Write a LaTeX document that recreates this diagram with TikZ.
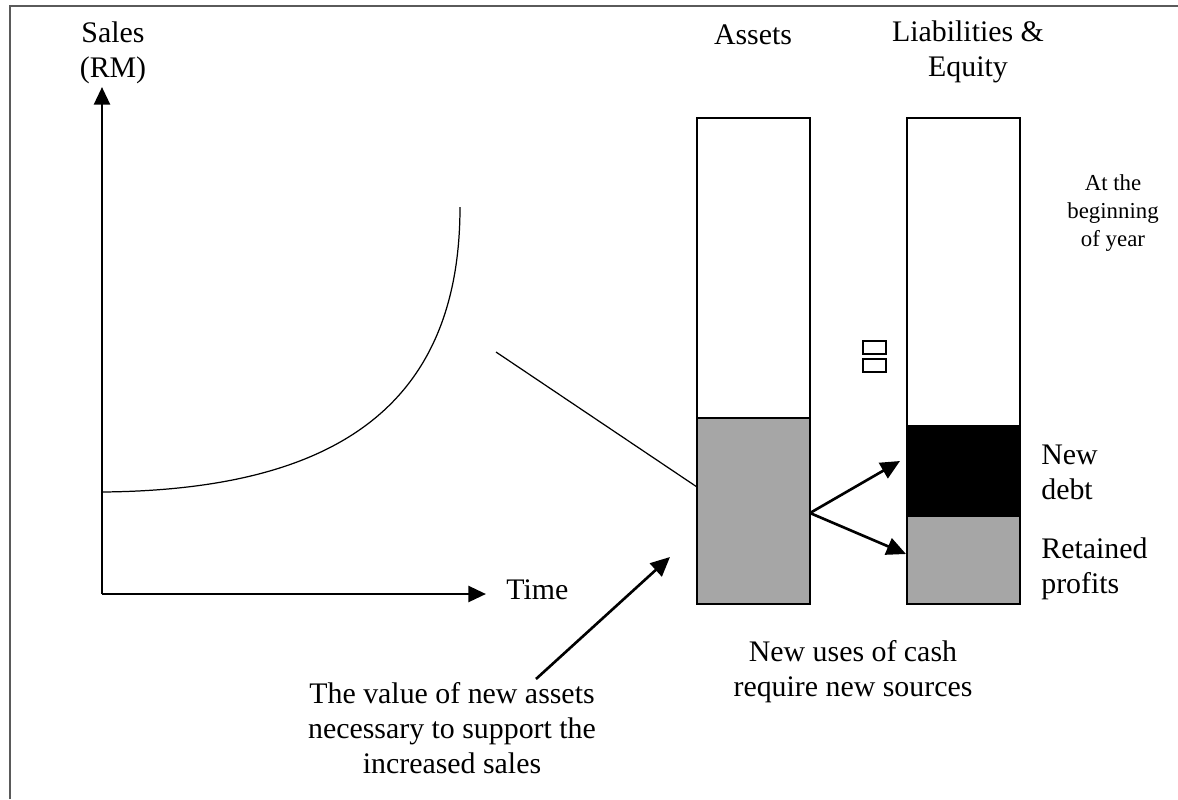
\documentclass[tikz,border=0pt]{standalone}
\usepackage{fontspec}
\setmainfont{Liberation Serif}
\usetikzlibrary{arrows.meta}

\definecolor{grisBarra}{RGB}{166,166,166}
\definecolor{grisMarco}{RGB}{90,90,90}

\begin{document}
\begin{tikzpicture}[x=0.02cm,y=-0.02cm]
    \tikzset{bigText/.style = {inner sep=0pt,align=center,font=\fontsize{17}{20}\selectfont}}
    \tikzset{smallText/.style = {inner sep=0pt,align=center,font=\fontsize{13}{16}\selectfont}}
    \tikzset{barLine/.style = {draw,line width=1.6pt}}
    \tikzset{axisArrow/.style = {-{Triangle[length=10pt,width=9pt]},line width=1.6pt}}
    \tikzset{flechita/.style = {-{Triangle[length=11pt,width=10pt]},line width=1.5pt}}

    \useasboundingbox (0,0) rectangle (1178,799);

    % marco (solo se ven arriba e izquierda)
    \draw[grisMarco,line width=1.1pt] (10,799) -- (10,6) -- (1178,6);

    % ejes de la grafica
    \coordinate (origen) at (102,594);
    \coordinate (ejeY) at (102,87);
    \coordinate (ejeX) at (486,594);
    \draw[axisArrow] (origen) -- (ejeY);
    \draw[axisArrow] (origen) -- (ejeX);

    \node[bigText] (sales) at (113,53) {Sales\\(RM)};
    \node[bigText,anchor=west] (time) at (506,590) {Time};

    % curva de ventas
    \coordinate (curvaIni) at (102,492);
    \coordinate (curvaFin) at (460,207);
    \draw[line width=0.7pt] (curvaIni) .. controls (330,490) and (460,410) .. (curvaFin);

    % linea fina hacia los activos
    \coordinate (lineaIni) at (496,352);
    \coordinate (lineaFin) at (697,487);
    \draw[line width=0.7pt] (lineaIni) -- (lineaFin);

    % columna de activos
    \fill[grisBarra] (697,418) rectangle (810,604);
    \draw[barLine] (697,118) rectangle (810,604);
    \draw[barLine] (697,418) -- (810,418);
    \node[bigText] (assets) at (753,35) {Assets};

    % columna de pasivos
    \fill[grisBarra] (907,517) rectangle (1020,604);
    \fill[black] (907,425) rectangle (1020,517);
    \draw[barLine] (907,118) rectangle (1020,604);
    \node[bigText] (liab) at (968,52) {Liabilities \&\\Equity};

    % signo igual
    \draw[barLine] (863,341) rectangle (886,354);
    \draw[barLine] (863,359) rectangle (886,372);

    \node[smallText] (inicio) at (1113,213) {At the\\beginning\\of year};
    \node[bigText,anchor=west,align=left] (deuda) at (1041,472) {New\\debt};
    \node[bigText,anchor=west,align=left] (retenidos) at (1041,569) {Retained\\profits};

    \node[bigText] (usos) at (853,672) {New uses of cash\\require new sources};
    \node[bigText] (valor) at (452,728) {The value of new assets\\necessary to support the\\increased sales};

    % flechas
    \coordinate (activoNuevo) at (810,513);
    \coordinate (puntaDeuda) at (900,461);
    \coordinate (puntaRet) at (906,554);
    \draw[flechita] (activoNuevo) -- (puntaDeuda);
    \draw[flechita] (activoNuevo) -- (puntaRet);

    \coordinate (valorIni) at (536,679);
    \coordinate (valorFin) at (670,557);
    \draw[flechita] (valorIni) -- (valorFin);
\end{tikzpicture}
\end{document}
